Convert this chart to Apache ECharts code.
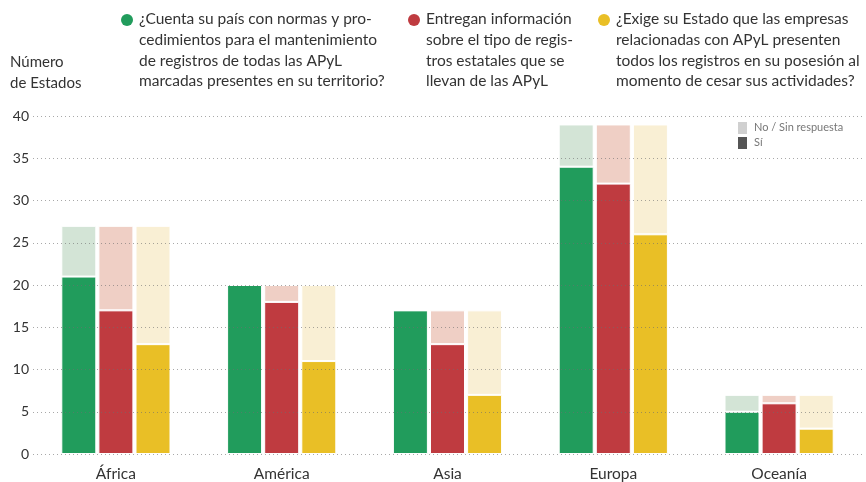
<!DOCTYPE html>
<html>
<head>
<meta charset="utf-8">
<script src="https://cdn.jsdelivr.net/npm/echarts@6/dist/echarts.min.js"></script>
<style>
  html, body { margin: 0; padding: 0; background: #fff; }
  #chart { width: 866px; height: 482px; }
</style>
</head>
<body>
<div id="chart"></div>
<script>
var regions = ['África', 'América', 'Asia', 'Europa', 'Oceanía'];

// Sí / total per question
var normasSi = [21, 20, 17, 34, 5];
var normasTotal = [27, 20, 17, 39, 7];
var entreganSi = [17, 18, 13, 32, 6];
var entreganTotal = [27, 20, 17, 39, 7];
var exigeSi = [13, 11, 7, 26, 3];
var exigeTotal = [27, 20, 17, 39, 7];

var questions = [
    '¿Cuenta su país con normas y pro-\ncedimientos para el mantenimiento\nde registros de todas las APyL\nmarcadas presentes en su territorio?',
    'Entregan información\nsobre el tipo de regis-\ntros estatales que se\nllevan de las APyL',
    '¿Exige su Estado que las empresas\nrelacionadas con APyL presenten\ntodos los registros en su posesión al\nmomento de cesar sus actividades?'
];

var FONT = 'Lato, "Noto Sans", sans-serif';
var dark = ['#219c5c', '#bf3b40', '#e9bf26'];
var light = ['#d3e4d6', '#efcfc5', '#f9efd4'];

function rest(si, total) {
    return total.map(function (t, i) { return t - si[i]; });
}

var pairs = [
    [normasSi, normasTotal],
    [entreganSi, entreganTotal],
    [exigeSi, exigeTotal]
];

var series = [];
pairs.forEach(function (p, k) {
    series.push({
        type: 'bar', stack: 'q' + k, name: 'si' + k,
        data: p[0], barWidth: 35, barGap: '6%',
        itemStyle: { color: dark[k], borderColor: '#fff', borderWidth: 1 }
    });
    series.push({
        type: 'bar', stack: 'q' + k, name: 'no' + k,
        data: rest(p[0], p[1]), barWidth: 35, barGap: '6%',
        itemStyle: { color: light[k], borderColor: '#fff', borderWidth: 1 }
    });
});

var graphics = [
    { type: 'text', left: 10, top: 52, style: { text: 'Número\nde Estados', font: '15px ' + FONT, fill: '#333', lineHeight: 21 } },
    // small legend
    { type: 'rect', shape: { x: 738, y: 122, width: 9, height: 12 }, style: { fill: '#d0d0d0' } },
    { type: 'rect', shape: { x: 738, y: 137, width: 9, height: 12 }, style: { fill: '#555' } },
    { type: 'text', left: 754, top: 122, style: { text: 'No / Sin respuesta', font: '11px ' + FONT, fill: '#777' } },
    { type: 'text', left: 754, top: 137, style: { text: 'Sí', font: '11px ' + FONT, fill: '#777' } }
];
var legX = [127, 414, 604];
questions.forEach(function (q, k) {
    graphics.push({ type: 'circle', shape: { cx: legX[k], cy: 20, r: 6 }, style: { fill: dark[k] } });
    graphics.push({ type: 'text', left: legX[k] + 12, top: 9, style: { text: q, font: '15.5px ' + FONT, fill: '#333', lineHeight: 20.7 } });
});

var chart = echarts.init(document.getElementById('chart'));
chart.setOption({
    animation: false,
    grid: { left: 33, right: 4, top: 116, bottom: 27 },
    xAxis: {
        type: 'category',
        data: regions,
        axisLine: { show: false },
        axisTick: { show: false },
        axisLabel: { color: '#333', fontSize: 15.5, fontFamily: FONT, margin: 12 }
    },
    yAxis: {
        type: 'value',
        min: 0, max: 40, interval: 5,
        z: 3,
        axisLabel: { color: '#333', fontSize: 14, fontFamily: FONT, margin: 4 },
        splitLine: { lineStyle: { type: [1, 3], color: 'rgba(110,110,110,0.6)', width: 1 } }
    },
    series: series,
    graphic: graphics
});
</script>
</body>
</html>
